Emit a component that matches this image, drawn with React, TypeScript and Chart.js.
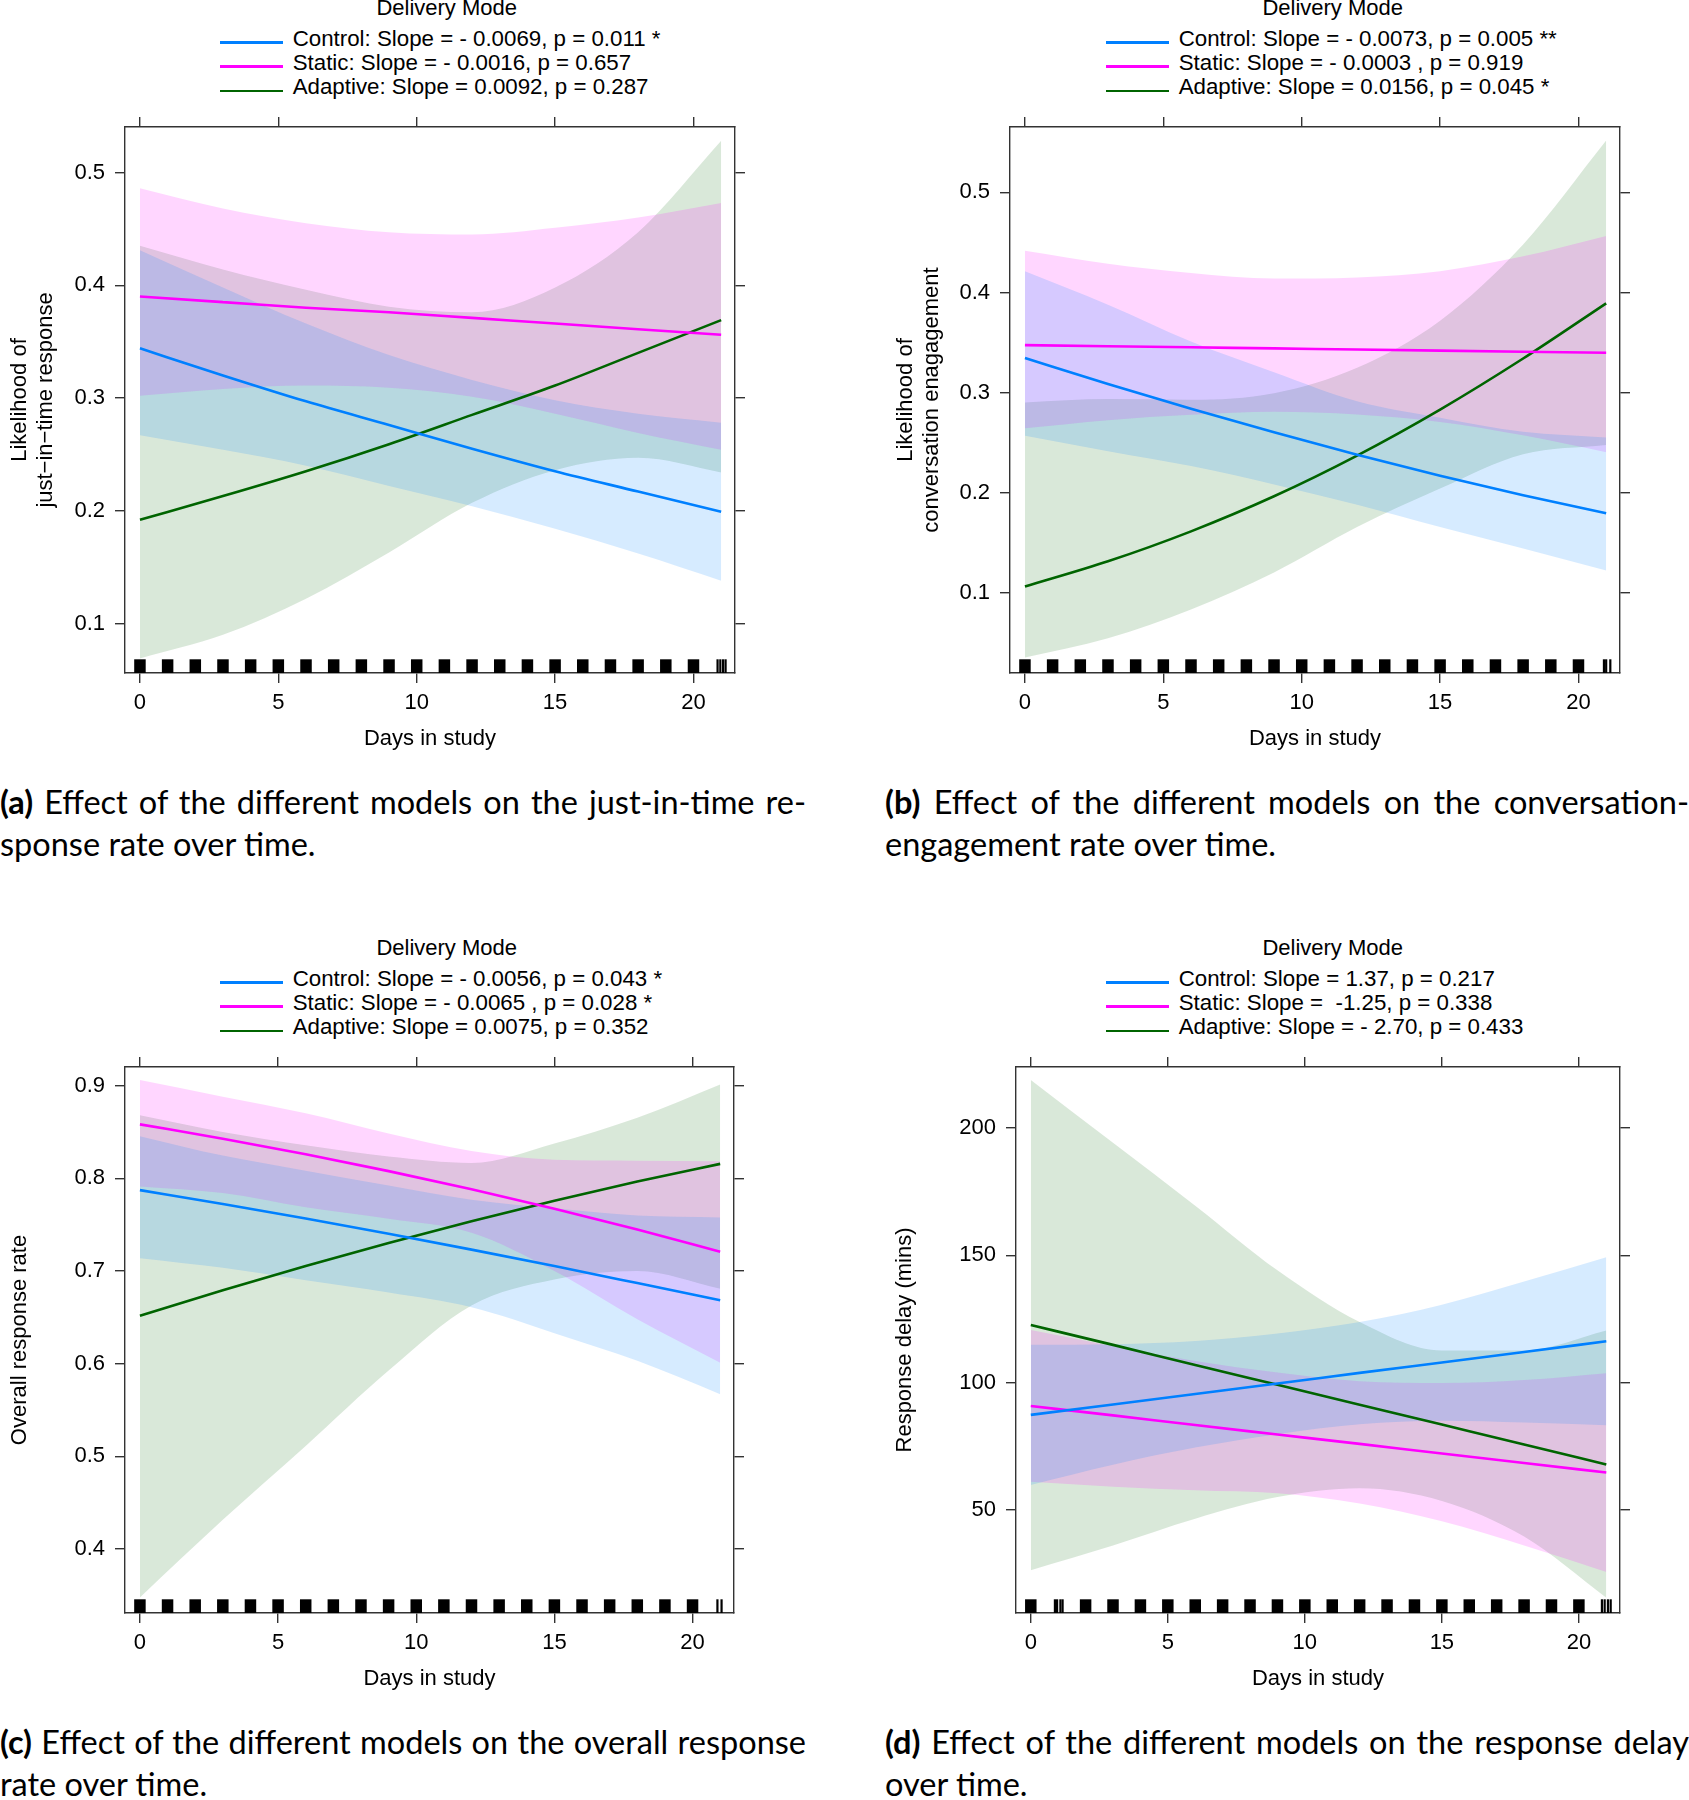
import React, { useEffect, useRef } from 'react';
import { Chart, registerables } from 'chart.js';
Chart.register(...registerables);

// ---------- data ----------
const DAYS = [0, 3, 6, 9, 12, 15, 18, 21];
const X_TICKS = [0, 5, 10, 15, 20];
const X_MIN = -0.54;
const X_MAX = 21.5;

const SERIES = ['Control', 'Static', 'Adaptive'];
const LINE_COLORS = ['#0080ff', '#ff00ff', '#006400'];
const BAND_COLORS = ['rgba(0,128,255,0.16)', 'rgba(255,0,255,0.16)', 'rgba(0,100,0,0.15)'];

// Panel (a) just-in-time response
const A_CONTROL = [0.344, 0.320, 0.297, 0.276, 0.255, 0.235, 0.217, 0.199];
const A_STATIC = [0.390, 0.385, 0.380, 0.376, 0.371, 0.366, 0.361, 0.356];
const A_ADAPTIVE = [0.192, 0.213, 0.235, 0.259, 0.285, 0.311, 0.340, 0.369];
const A_CONTROL_LO = [0.267, 0.254, 0.240, 0.222, 0.204, 0.184, 0.162, 0.138];
const A_CONTROL_HI = [0.431, 0.398, 0.366, 0.338, 0.316, 0.298, 0.286, 0.278];
const A_STATIC_LO = [0.302, 0.308, 0.311, 0.309, 0.301, 0.286, 0.269, 0.254];
const A_STATIC_HI = [0.486, 0.468, 0.455, 0.447, 0.445, 0.451, 0.460, 0.473];
const A_ADAPTIVE_LO = [0.069, 0.090, 0.122, 0.163, 0.207, 0.236, 0.247, 0.234];
const A_ADAPTIVE_HI = [0.435, 0.414, 0.396, 0.381, 0.376, 0.398, 0.447, 0.528];

// Panel (b) conversation engagement
const B_CONTROL = [0.3347, 0.3088, 0.2841, 0.2605, 0.2382, 0.2173, 0.1978, 0.1797];
const B_STATIC = [0.3476, 0.3465, 0.3454, 0.3443, 0.3432, 0.3421, 0.3410, 0.3399];
const B_ADAPTIVE = [0.1066, 0.1318, 0.1617, 0.1967, 0.2373, 0.2832, 0.3342, 0.3893];
const B_CONTROL_LO = [0.2572, 0.2417, 0.2269, 0.2085, 0.1882, 0.166, 0.1446, 0.1225];
const B_CONTROL_HI = [0.4214, 0.388, 0.3512, 0.3205, 0.2915, 0.275, 0.261, 0.2554];
const B_STATIC_LO = [0.2646, 0.2727, 0.2780, 0.2810, 0.2783, 0.2709, 0.2575, 0.2406];
const B_STATIC_HI = [0.4417, 0.4288, 0.4196, 0.4140, 0.4151, 0.4214, 0.4362, 0.4565];
const B_ADAPTIVE_LO = [0.0358, 0.055, 0.0838, 0.1207, 0.166, 0.2044, 0.2387, 0.248];
const B_ADAPTIVE_HI = [0.2904, 0.2937, 0.2930, 0.2996, 0.3250, 0.372, 0.448, 0.5517];

// Panel (c) overall response rate
const C_CONTROL = [0.7872, 0.7722, 0.7565, 0.7401, 0.7230, 0.7053, 0.6869, 0.6683];
const C_STATIC = [0.8581, 0.8427, 0.8259, 0.8077, 0.7881, 0.7671, 0.7447, 0.7206];
const C_ADAPTIVE = [0.6516, 0.6791, 0.7053, 0.7302, 0.7537, 0.7758, 0.7965, 0.8155];
const C_CONTROL_LO = [0.7138, 0.7034, 0.6899, 0.6767, 0.6608, 0.6329, 0.603, 0.5671];
const C_CONTROL_HI = [0.8454, 0.8244, 0.8081, 0.7922, 0.7769, 0.7675, 0.7597, 0.7577];
const C_STATIC_LO = [0.7911, 0.784, 0.7686, 0.7562, 0.7411, 0.700, 0.648, 0.601];
const C_STATIC_HI = [0.906, 0.888, 0.870, 0.8482, 0.8294, 0.820, 0.819, 0.8183];
const C_ADAPTIVE_LO = [0.3478, 0.4315, 0.5112, 0.5926, 0.6628, 0.6907, 0.6998, 0.6807];
const C_ADAPTIVE_HI = [0.868, 0.85, 0.8356, 0.8234, 0.8165, 0.8375, 0.8652, 0.9012];

// Panel (d) response delay (mins)
const D_CONTROL = [87.3, 91.4, 95.5, 99.6, 103.8, 107.9, 112.0, 116.2];
const D_STATIC = [90.8, 87.1, 83.3, 79.6, 75.9, 72.1, 68.4, 64.65];
const D_ADAPTIVE = [122.6, 114.8, 106.9, 99.1, 91.3, 83.5, 75.7, 67.85];
const D_CONTROL_LO = [59.8, 67.75, 74.45, 79.7, 83.6, 85.0, 84.3, 83.2];
const D_CONTROL_HI = [114.8, 115.05, 116.35, 119.3, 123.8, 130.6, 139.7, 149.2];
const D_STATIC_LO = [61.0, 59.1, 57.7, 56.5, 52.5, 45.5, 36.0, 25.6];
const D_STATIC_HI = [120.6, 114.3, 108.5, 103.9, 100.5, 99.8, 101.0, 103.7];
const D_ADAPTIVE_LO = [26.3, 36.0, 46.5, 55.0, 58.5, 53.5, 39.5, 15.5];
const D_ADAPTIVE_HI = [218.9, 194.2, 169.5, 144.1, 123.8, 112.6, 112.6, 120.4];

// rug (days with observations)
const RUG_FULL = [0, 1, 2, 3, 4, 5, 6, 7, 8, 9, 10, 11, 12, 13, 14, 15, 16, 17, 18, 19, 20];
const RUG_D_BLOCKS = [0, 2, 3, 4, 5, 6, 7, 8, 9, 10, 11, 12, 13, 14, 15, 16, 17, 18, 19, 20];
const RUG_A_THIN = [20.87, 20.97, 21.07, 21.16];
const RUG_B_THIN = [20.92, 21.0, 21.15];
const RUG_C_THIN = [20.9, 21.05];
const RUG_D_THIN = [0.88, 0.96, 1.08, 1.16, 20.84, 20.94, 21.06, 21.16];

// tick labels
const PROB_TICKS_AB = [0.1, 0.2, 0.3, 0.4, 0.5];
const PROB_TICKS_C = [0.4, 0.5, 0.6, 0.7, 0.8, 0.9];
const DELAY_TICKS = [50, 100, 150, 200];

const LEGEND_A = ['Control: Slope = - 0.0069, p = 0.011 *', 'Static: Slope = - 0.0016, p = 0.657', 'Adaptive: Slope = 0.0092, p = 0.287'];
const LEGEND_B = ['Control: Slope = - 0.0073, p = 0.005 **', 'Static: Slope = - 0.0003 , p = 0.919', 'Adaptive: Slope = 0.0156, p = 0.045 *'];
const LEGEND_C = ['Control: Slope = - 0.0056, p = 0.043 *', 'Static: Slope = - 0.0065 , p = 0.028 *', 'Adaptive: Slope = 0.0075, p = 0.352'];
const LEGEND_D = ['Control: Slope = 1.37, p = 0.217', 'Static: Slope =  -1.25, p = 0.338', 'Adaptive: Slope = - 2.70, p = 0.433'];

const CAPTIONS = [
  ['(a)', ' Effect of the different models on the just-in-time re-', 'sponse rate over time.'],
  ['(b)', ' Effect of the different models on the conversation-', 'engagement rate over time.'],
  ['(c)', ' Effect of the different models on the overall response', 'rate over time.'],
  ['(d)', ' Effect of the different models on the response delay', 'over time.'],
];

// ---------- layout ----------
const FONT = "'Liberation Sans', Arial, Helvetica, sans-serif";
const CAP_FONT = "Lato, 'Open Sans', sans-serif";
const CAP_SIZE = 32.5;
const AXIS_COLOR = '#333';

type PanelSpec = {
  left: number; top: number; width: number; height: number; yAxisWidth: number;
  yMin: number; yMax: number; yTicks: number[]; decimals: number; yTitle: string | string[];
  center: number[][]; lower: number[][]; upper: number[][];
  rugBlocks: number[]; rugThin: number[]; legend: string[]; ox: number; oy: number;
};

const PANELS: PanelSpec[] = [
  {
    left: 0, top: 115, width: 747, height: 648, yAxisWidth: 125,
    yMin: 0.0561, yMax: 0.5403, yTicks: PROB_TICKS_AB, decimals: 1,
    yTitle: ['Likelihood of', 'just\u2212in\u2212time response'],
    center: [A_CONTROL, A_STATIC, A_ADAPTIVE], lower: [A_CONTROL_LO, A_STATIC_LO, A_ADAPTIVE_LO], upper: [A_CONTROL_HI, A_STATIC_HI, A_ADAPTIVE_HI],
    rugBlocks: RUG_FULL, rugThin: RUG_A_THIN, legend: LEGEND_A, ox: 0, oy: 0,
  },
  {
    left: 886, top: 115, width: 746, height: 648, yAxisWidth: 124,
    yMin: 0.0203, yMax: 0.5653, yTicks: PROB_TICKS_AB, decimals: 1,
    yTitle: ['Likelihood of', 'conversation enagagement'],
    center: [B_CONTROL, B_STATIC, B_ADAPTIVE], lower: [B_CONTROL_LO, B_STATIC_LO, B_ADAPTIVE_LO], upper: [B_CONTROL_HI, B_STATIC_HI, B_ADAPTIVE_HI],
    rugBlocks: RUG_FULL, rugThin: RUG_B_THIN, legend: LEGEND_B, ox: 886, oy: 0,
  },
  {
    left: 0, top: 1055, width: 746, height: 648, yAxisWidth: 125,
    yMin: 0.331, yMax: 0.92, yTicks: PROB_TICKS_C, decimals: 1,
    yTitle: 'Overall response rate',
    center: [C_CONTROL, C_STATIC, C_ADAPTIVE], lower: [C_CONTROL_LO, C_STATIC_LO, C_ADAPTIVE_LO], upper: [C_CONTROL_HI, C_STATIC_HI, C_ADAPTIVE_HI],
    rugBlocks: RUG_FULL, rugThin: RUG_C_THIN, legend: LEGEND_C, ox: 0, oy: 940,
  },
  {
    left: 885, top: 1055, width: 747, height: 648, yAxisWidth: 131,
    yMin: 9.47, yMax: 223.96, yTicks: DELAY_TICKS, decimals: 0,
    yTitle: 'Response delay (mins)',
    center: [D_CONTROL, D_STATIC, D_ADAPTIVE], lower: [D_CONTROL_LO, D_STATIC_LO, D_ADAPTIVE_LO], upper: [D_CONTROL_HI, D_STATIC_HI, D_ADAPTIVE_HI],
    rugBlocks: RUG_D_BLOCKS, rugThin: RUG_D_THIN, legend: LEGEND_D, ox: 886, oy: 940,
  },
];

const PLOT_HEIGHT = 546; // chart area height in px (canvas height - top axis - bottom axis)
const RUG_HALF_PX = 6.85;

const noPad = (s: any) => { s.paddingLeft = 0; s.paddingRight = 0; s.paddingTop = 0; s.paddingBottom = 0; };

function PanelChart({ p }: { p: PanelSpec }) {
  const ref = useRef<HTMLCanvasElement>(null);
  useEffect(() => {
    const canvas = ref.current;
    if (!canvas) return;
    const rugY = p.yMin + (p.yMax - p.yMin) * (RUG_HALF_PX / PLOT_HEIGHT);
    const toPts = (vals: number[]) => DAYS.map((d, i) => ({ x: d, y: vals[i] }));
    const datasets: any[] = [];
    datasets.push({
      data: p.rugBlocks.map((d) => ({ x: d, y: rugY })), showLine: false,
      pointStyle: 'line', pointRotation: 90, pointRadius: RUG_HALF_PX, pointHoverRadius: RUG_HALF_PX,
      pointBorderWidth: 11.5, pointBorderColor: '#000', pointBackgroundColor: '#000', fill: false,
    });
    datasets.push({
      data: p.rugThin.map((d) => ({ x: d, y: rugY })), showLine: false,
      pointStyle: 'line', pointRotation: 90, pointRadius: RUG_HALF_PX, pointHoverRadius: RUG_HALF_PX,
      pointBorderWidth: 2.2, pointBorderColor: '#000', pointBackgroundColor: '#000', fill: false,
    });
    SERIES.forEach((_, s) => {
      datasets.push({
        label: SERIES[s], data: toPts(p.center[s]), borderColor: LINE_COLORS[s], borderWidth: 2.6,
        pointRadius: 0, fill: false, cubicInterpolationMode: 'monotone', borderCapStyle: 'butt',
      });
    });
    SERIES.forEach((_, s) => {
      datasets.push({
        data: toPts(p.upper[s]), borderWidth: 0, borderColor: 'rgba(0,0,0,0)', pointRadius: 0,
        fill: false, cubicInterpolationMode: 'monotone',
      });
      datasets.push({
        data: toPts(p.lower[s]), borderWidth: 0, borderColor: 'rgba(0,0,0,0)', pointRadius: 0,
        fill: '-1', backgroundColor: BAND_COLORS[s], cubicInterpolationMode: 'monotone',
      });
    });

    const grid = { display: true, drawOnChartArea: false, drawTicks: true, tickLength: 10, color: AXIS_COLOR, tickColor: AXIS_COLOR, lineWidth: 1.4, tickWidth: 1.4 };
    const border = { display: true, color: AXIS_COLOR, width: 1.4 };
    const font = { family: FONT, size: 22 };
    const setX = (s: any) => { s.ticks = X_TICKS.map((v) => ({ value: v })); };
    const setY = (s: any) => { s.ticks = p.yTicks.map((v) => ({ value: v })); };

    const chart = new Chart(canvas, {
      type: 'line',
      data: { datasets },
      options: {
        responsive: false, animation: false, devicePixelRatio: 1, events: [],
        layout: { padding: 0, autoPadding: false },
        plugins: {
          legend: { display: false }, tooltip: { enabled: false },
          filler: { drawTime: 'beforeDatasetsDraw', propagate: false },
        },
        scales: {
          x: {
            type: 'linear', position: 'bottom', min: X_MIN, max: X_MAX,
            afterBuildTicks: setX, afterFit: (s: any) => { s.height = 90; noPad(s); },
            grid, border,
            ticks: { font, color: '#000', padding: 7, maxRotation: 0, autoSkip: false, callback: (v: any) => String(v) },
            title: { display: true, text: 'Days in study', font, color: '#000', padding: { top: 0, bottom: 10.8 } },
          },
          x2: {
            type: 'linear', position: 'top', min: X_MIN, max: X_MAX,
            afterBuildTicks: setX, afterFit: (s: any) => { s.height = 12; noPad(s); },
            grid, border, ticks: { display: false },
          },
          y: {
            type: 'linear', position: 'left', min: p.yMin, max: p.yMax,
            afterBuildTicks: setY, afterFit: (s: any) => { s.width = p.yAxisWidth; noPad(s); },
            grid, border,
            ticks: { font, color: '#000', padding: 10, autoSkip: false, callback: (v: any) => Number(v).toFixed(p.decimals) },
            title: { display: true, text: p.yTitle, font, color: '#000', padding: { top: 6.8, bottom: 0 } },
          },
          y2: {
            type: 'linear', position: 'right', min: p.yMin, max: p.yMax,
            afterBuildTicks: setY, afterFit: (s: any) => { s.width = 12; noPad(s); },
            grid, border, ticks: { display: false },
          },
        },
      } as any,
    });
    return () => chart.destroy();
  }, [p]);
  return (
    <canvas
      ref={ref}
      width={p.width}
      height={p.height}
      style={{ position: 'absolute', left: p.left, top: p.top, width: p.width, height: p.height }}
    />
  );
}

function Legend({ p }: { p: PanelSpec }) {
  const items = [];
  items.push(
    <div key="t" style={{ position: 'absolute', left: 346.7 + p.ox, top: 16 + p.oy - 18.62, width: 200, textAlign: 'center', fontFamily: FONT, fontSize: 22, lineHeight: '22px', color: '#000', whiteSpace: 'pre' }}>
      Delivery Mode
    </div>
  );
  p.legend.forEach((txt, i) => {
    items.push(
      <div key={'l' + i} style={{ position: 'absolute', left: 220 + p.ox, top: 42.3 + 24.3 * i + p.oy - 1.35, width: 62.7, height: 2.7, background: LINE_COLORS[i] }} />
    );
    items.push(
      <div key={'t' + i} style={{ position: 'absolute', left: 292.7 + p.ox, top: 46.7 + 24.3 * i + p.oy - 18.88, fontFamily: FONT, fontSize: 22.3, lineHeight: '22.3px', color: '#000', whiteSpace: 'pre' }}>
        {txt}
      </div>
    );
  });
  return <>{items}</>;
}

function Caption({ idx }: { idx: number }) {
  const [label, l1, l2] = CAPTIONS[idx];
  const left = idx % 2 === 0 ? 0 : 885;
  const width = idx % 2 === 0 ? 806 : 804;
  const baseline = idx < 2 ? 815 : 1755;
  const baseOff = (42 - 1.2 * CAP_SIZE) / 2 + 0.987 * CAP_SIZE;
  const common: React.CSSProperties = { position: 'absolute', left, width, fontFamily: CAP_FONT, fontSize: CAP_SIZE, lineHeight: '42px', color: '#000', whiteSpace: 'nowrap' };
  return (
    <>
      <div style={{ ...common, top: baseline - baseOff, textAlign: 'justify', textAlignLast: 'justify' }}>
        <b>{label}</b>{l1}
      </div>
      <div style={{ ...common, top: baseline - baseOff + 42 }}>{l2}</div>
    </>
  );
}

export default function App() {
  return (
    <div style={{ position: 'absolute', left: 0, top: 0, width: 1689, height: 1800, overflow: 'hidden', background: '#fff' }}>
      {PANELS.map((p, i) => (
        <React.Fragment key={i}>
          <Legend p={p} />
          <PanelChart p={p} />
          <Caption idx={i} />
        </React.Fragment>
      ))}
    </div>
  );
}
